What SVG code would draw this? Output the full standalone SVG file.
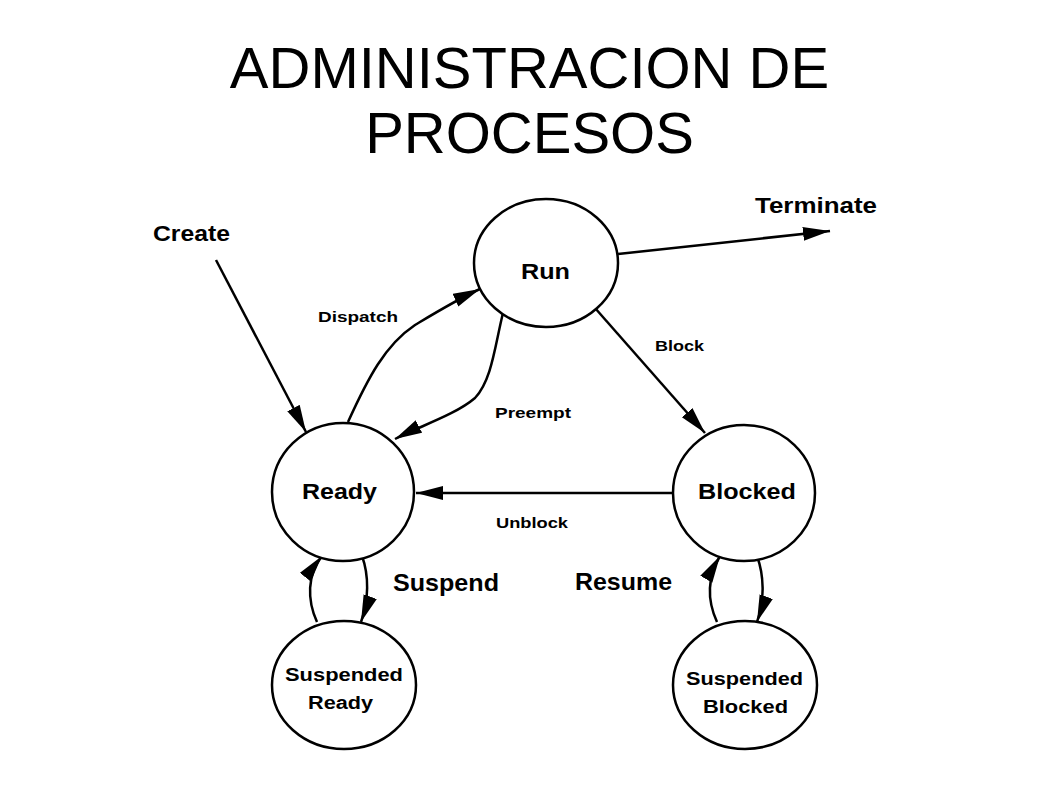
<svg xmlns="http://www.w3.org/2000/svg" width="1058" height="793" viewBox="0 0 1058 793">
<style>
.title{font-family:"Liberation Sans",Arial,sans-serif;font-size:58px;fill:#000;text-anchor:middle}
.lbl{font-family:"Liberation Sans",Arial,sans-serif;font-weight:bold;fill:#000}
.big{font-size:22px}
.med{font-size:24px}
.sm{font-size:15px}
.nd{font-size:18px}
.node{fill:#fff;stroke:#000;stroke-width:2.5}
.edge{fill:none;stroke:#000;stroke-width:2.5;marker-end:url(#ah)}
</style>
<defs>
<marker id="ah" markerUnits="userSpaceOnUse" markerWidth="30" markerHeight="16" refX="27" refY="7" orient="auto">
<path d="M0,0 L27,7 L0,14 z" fill="#000"/>
</marker>
</defs>
<rect width="1058" height="793" fill="#fff"/>
<text class="title" x="529.5" y="88">ADMINISTRACION DE</text>
<text class="title" x="529.5" y="153">PROCESOS</text>

<g id="connectors">
<path class="edge" d="M216,260 L306,432"/>
<path class="edge" d="M348,422 C368,378 385,345 415,325 C440,310 458,299 480,289"/>
<path class="edge" d="M503,313 C495,345 492,380 475,398 C455,415 420,426 395,439"/>
<path class="edge" d="M673,493 L416,493"/>
<path class="edge" d="M595,308 L705,433"/>
<path class="edge" d="M618,254 L830,231"/>
<path class="edge" d="M317,622 C307,600 307,575 322,556"/>
<path class="edge" d="M362,556 C369,575 369,600 361,622"/>
<path class="edge" d="M717,622 C707,600 707,578 720,556"/>
<path class="edge" d="M757,556 C764,575 765,600 757,622"/>
<text class="lbl big" x="153" y="241" textLength="77" lengthAdjust="spacingAndGlyphs">Create</text>
<text class="lbl big" x="755" y="213" textLength="122" lengthAdjust="spacingAndGlyphs">Terminate</text>
<text class="lbl sm" x="318" y="322" textLength="80" lengthAdjust="spacingAndGlyphs">Dispatch</text>
<text class="lbl sm" x="495" y="418" textLength="76" lengthAdjust="spacingAndGlyphs">Preempt</text>
<text class="lbl sm" x="655" y="351" textLength="49" lengthAdjust="spacingAndGlyphs">Block</text>
<text class="lbl sm" x="496" y="528" textLength="72" lengthAdjust="spacingAndGlyphs">Unblock</text>
<text class="lbl med" x="393" y="591" textLength="106" lengthAdjust="spacingAndGlyphs">Suspend</text>
<text class="lbl med" x="575" y="590" textLength="97" lengthAdjust="spacingAndGlyphs">Resume</text>
</g>

<g id="run">
<ellipse class="node" cx="546" cy="263" rx="72" ry="64"/>
<text class="lbl big" x="521" y="279" textLength="49" lengthAdjust="spacingAndGlyphs">Run</text>
</g>
<g id="ready">
<ellipse class="node" cx="343" cy="492" rx="71" ry="69"/>
<text class="lbl big" x="302" y="499" textLength="75" lengthAdjust="spacingAndGlyphs">Ready</text>
</g>
<g id="blocked">
<ellipse class="node" cx="744" cy="493" rx="71" ry="68"/>
<text class="lbl big" x="698" y="499" textLength="98" lengthAdjust="spacingAndGlyphs">Blocked</text>
</g>
<g id="suspended-ready">
<ellipse class="node" cx="344" cy="685" rx="72" ry="64"/>
<text class="lbl nd" x="285" y="681" textLength="118" lengthAdjust="spacingAndGlyphs">Suspended</text>
<text class="lbl nd" x="308" y="709" textLength="65" lengthAdjust="spacingAndGlyphs">Ready</text>
</g>
<g id="suspended-blocked">
<ellipse class="node" cx="745" cy="685" rx="72" ry="64"/>
<text class="lbl nd" x="686" y="685" textLength="117" lengthAdjust="spacingAndGlyphs">Suspended</text>
<text class="lbl nd" x="703" y="713" textLength="85" lengthAdjust="spacingAndGlyphs">Blocked</text>
</g>
</svg>
